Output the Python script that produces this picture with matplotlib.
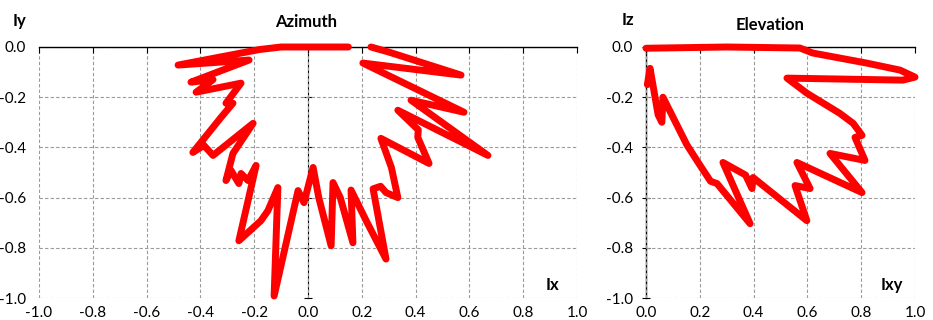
import numpy as np
import matplotlib.pyplot as plt

plt.rcParams['font.family'] = ['Lato', 'DejaVu Sans']

# Azimuth pattern (Ix, Iy), traced from the top centre going round
az_x = [0.15, 0.0, -0.10, -0.18, -0.483, -0.219, -0.435, -0.353, -0.416, -0.249,
        -0.305, -0.279, -0.323, -0.428, -0.387, -0.353, -0.204, -0.279, -0.305,
        -0.286, -0.257, -0.249, -0.223, -0.193, -0.257, -0.175, -0.149, -0.112,
        -0.126, -0.037, -0.015, 0.019, 0.04, 0.086, 0.093, 0.12, 0.167, 0.16,
        0.22, 0.29, 0.242, 0.27, 0.29, 0.334, 0.31, 0.271, 0.45, 0.408, 0.41,
        0.334, 0.669, 0.383, 0.58, 0.204, 0.569, 0.30, 0.234]
az_y = [0.0, 0.0, 0.0, -0.01, -0.072, -0.052, -0.14, -0.13, -0.18, -0.144,
        -0.224, -0.224, -0.28, -0.42, -0.392, -0.432, -0.304, -0.424, -0.532,
        -0.492, -0.544, -0.504, -0.532, -0.472, -0.772, -0.692, -0.652, -0.56,
        -0.992, -0.572, -0.62, -0.48, -0.60, -0.792, -0.54, -0.60, -0.78, -0.57,
        -0.70, -0.845, -0.565, -0.555, -0.58, -0.60, -0.48, -0.364, -0.464, -0.36,
        -0.33, -0.252, -0.432, -0.212, -0.26, -0.064, -0.112, -0.02, 0.0]

# Elevation pattern (Ixy, Iz)
el_x = [0.0, 0.3, 0.572, 0.62, 0.82, 0.944, 1.0, 0.955, 0.524, 0.598, 0.72,
        0.77, 0.803, 0.777, 0.814, 0.684, 0.803, 0.561, 0.61, 0.554, 0.598,
        0.398, 0.394, 0.37, 0.286, 0.387, 0.264, 0.24, 0.2, 0.152, 0.063,
        0.059, 0.045, 0.015, 0.005]
el_y = [-0.005, 0.0, -0.004, -0.024, -0.064, -0.092, -0.12, -0.132, -0.124,
        -0.184, -0.264, -0.304, -0.352, -0.36, -0.452, -0.424, -0.58, -0.46,
        -0.564, -0.552, -0.692, -0.52, -0.564, -0.51, -0.46, -0.704, -0.544,
        -0.535, -0.47, -0.39, -0.2, -0.30, -0.27, -0.085, -0.15]

az_xticks = [-1.0, -0.8, -0.6, -0.4, -0.2, 0.0, 0.2, 0.4, 0.6, 0.8, 1.0]
el_xticks = [0.0, 0.2, 0.4, 0.6, 0.8, 1.0]
yticks = [0.0, -0.2, -0.4, -0.6, -0.8, -1.0]

fig = plt.figure(figsize=(9.33, 3.2), dpi=100)
ax1 = fig.add_axes([39 / 933, 22 / 320, 538 / 933, 251 / 320])
ax2 = fig.add_axes([646 / 933, 22 / 320, 269 / 933, 251 / 320])


def style(ax, xticks):
    ax.set_xlim(xticks[0], xticks[-1])
    ax.set_ylim(-1.0, 0.0)
    ax.set_xticks(xticks)
    ax.set_yticks(yticks)
    ax.set_xticklabels([f'{v:.1f}' for v in xticks])
    ax.set_yticklabels([f'{v:.1f}' for v in yticks])
    ax.grid(True, color='#9a9a9a', linestyle=(0, (3, 2)), linewidth=0.8)
    for s in ['bottom', 'right', 'left']:
        ax.spines[s].set_visible(False)
    ax.spines['top'].set_color('black')
    ax.spines['top'].set_linewidth(1.0)
    ax.tick_params(axis='x', bottom=False, top=True, labelbottom=True,
                   direction='in', length=4, color='black', labelsize=11, pad=6)
    ax.tick_params(axis='y', left=False, labelsize=11, pad=6)
    # vertical value axis through x = 0
    pos = (0 - xticks[0]) / (xticks[-1] - xticks[0])
    sec = ax.secondary_yaxis(pos)
    sec.set_yticks(yticks)
    sec.set_yticklabels([])
    sec.tick_params(direction='inout', length=6, color='black')
    sec.spines['left'].set_color('black')
    sec.spines['left'].set_linewidth(1.0)


style(ax1, az_xticks)
style(ax2, el_xticks)

ax1.plot(az_x, az_y, color='#ff0000', linewidth=5, solid_joinstyle='round',
         solid_capstyle='round', clip_on=False, zorder=5)
ax2.plot(el_x, el_y, color='#ff0000', linewidth=5, solid_joinstyle='round',
         solid_capstyle='round', clip_on=False, zorder=5)

fig.text(20 / 933, 1 - 21 / 320, 'Iy', fontsize=12, fontweight='bold', ha='center', va='center')
fig.text(306 / 933, 1 - 22 / 320, 'Azimuth', fontsize=12, fontweight='bold', ha='center', va='center')
fig.text(628 / 933, 1 - 20 / 320, 'Iz', fontsize=12, fontweight='bold', ha='center', va='center')
fig.text(770 / 933, 1 - 25 / 320, 'Elevation', fontsize=12, fontweight='bold', ha='center', va='center')
fig.text(552 / 933, 1 - 285 / 320, 'Ix', fontsize=12, fontweight='bold', ha='center', va='center')
fig.text(892 / 933, 1 - 285 / 320, 'Ixy', fontsize=12, fontweight='bold', ha='center', va='center')

fig.savefig('out.png', dpi=100)
